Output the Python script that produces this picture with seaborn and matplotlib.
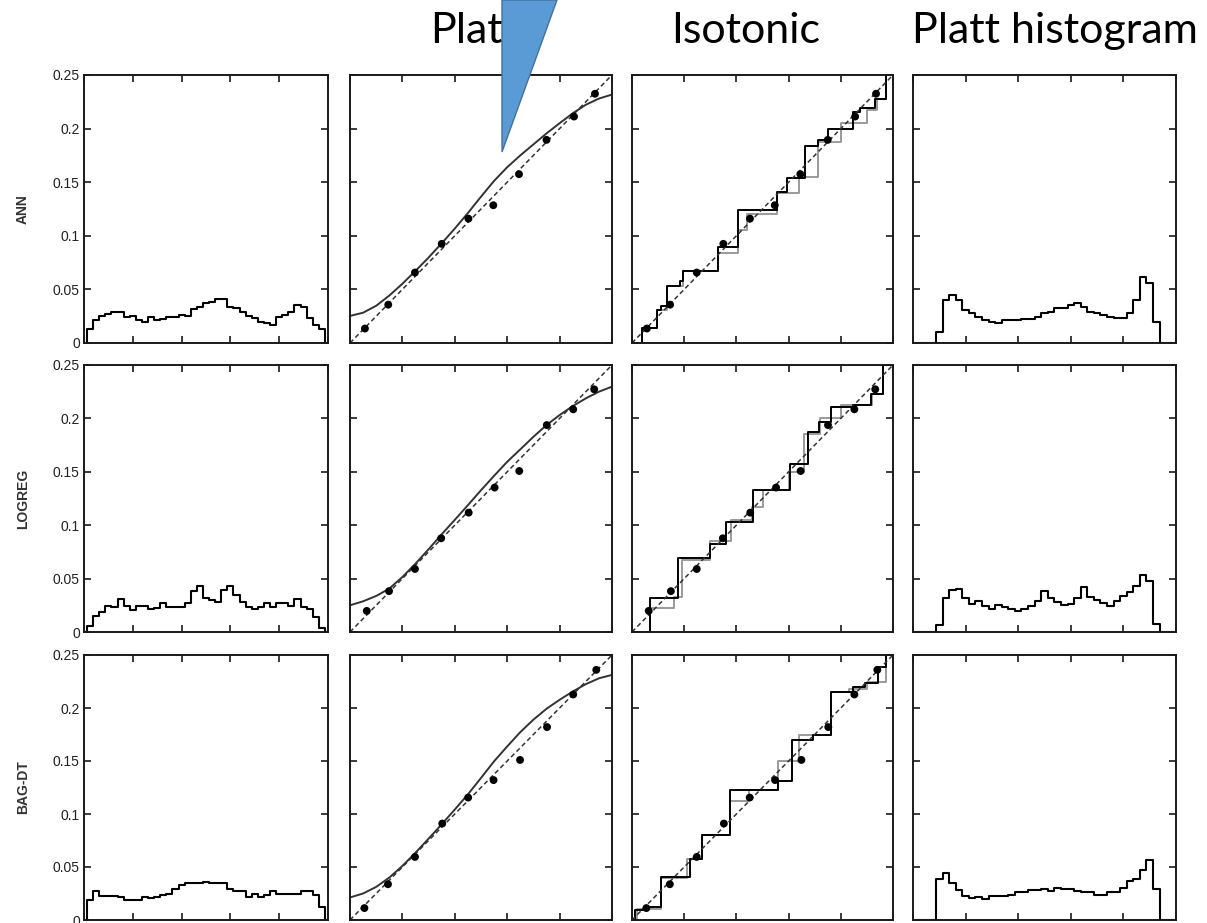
import numpy as np
import pandas as pd
import matplotlib
matplotlib.use("Agg")
import matplotlib.pyplot as plt
import seaborn as sns
from matplotlib.patches import Polygon

# ---------------- data ----------------
row_names = ["ANN", "LOGREG", "BAG-DT"]
col_titles = ["Platt", "Isotonic", "Platt histogram"]
hist_ticks = [0, 0.05, 0.1, 0.15, 0.2, 0.25]
hist_tick_labels = ["0", "0.05", "0.1", "0.15", "0.2", "0.25"]
rel_ticks = [0, 0.2, 0.4, 0.6, 0.8, 1.0]
x_ticks = [0, 0.2, 0.4, 0.6, 0.8, 1.0]

bin_width = 0.025
bin_centers = np.round(np.arange(41) * bin_width, 4)

# raw prediction histograms (column 1)
hist_ann = [0, 0.013, 0.021, 0.025, 0.0275, 0.029, 0.029, 0.024, 0.025, 0.021, 0.020,
            0.024, 0.021, 0.0225, 0.024, 0.024, 0.0265, 0.025, 0.032, 0.034, 0.037,
            0.038, 0.041, 0.041, 0.034, 0.033, 0.029, 0.025, 0.023, 0.020, 0.019,
            0.017, 0.024, 0.026, 0.029, 0.035, 0.034, 0.023, 0.017, 0.013, 0]
hist_logreg = [0, 0.0054, 0.0149, 0.019, 0.024, 0.0237, 0.031, 0.024, 0.0205, 0.0246, 0.0246,
               0.0215, 0.0228, 0.0275, 0.023, 0.023, 0.023, 0.0275, 0.038, 0.043, 0.032,
               0.030, 0.028, 0.039, 0.043, 0.035, 0.028, 0.023, 0.0215, 0.023, 0.0275,
               0.023, 0.0275, 0.0275, 0.0246, 0.031, 0.023, 0.022, 0.0136, 0.0038, 0]
hist_bagdt = [0, 0.019, 0.027, 0.023, 0.023, 0.023, 0.0215, 0.019, 0.019, 0.019, 0.022,
              0.0205, 0.022, 0.0237, 0.025, 0.029, 0.033, 0.035, 0.035, 0.035, 0.036,
              0.035, 0.035, 0.035, 0.029, 0.027, 0.027, 0.022, 0.025, 0.022, 0.0237,
              0.027, 0.025, 0.025, 0.025, 0.025, 0.027, 0.027, 0.0237, 0.0127, 0]

# Platt-calibrated histograms (column 4)
phist_ann = [0, 0, 0, 0, 0.0102, 0.040, 0.0444, 0.040, 0.031, 0.0278, 0.0238,
             0.0216, 0.020, 0.019, 0.021, 0.021, 0.021, 0.0222, 0.0222, 0.0247, 0.0278,
             0.0293, 0.0324, 0.0324, 0.0355, 0.037, 0.034, 0.0293, 0.0278, 0.026, 0.0247,
             0.023, 0.023, 0.028, 0.040, 0.062, 0.056, 0.020, 0, 0, 0]
phist_logreg = [0, 0, 0, 0, 0.0065, 0.0314, 0.039, 0.0407, 0.0314, 0.0264, 0.029,
                0.024, 0.022, 0.025, 0.023, 0.0217, 0.0196, 0.0217, 0.024, 0.029, 0.038,
                0.0314, 0.028, 0.025, 0.0264, 0.0314, 0.042, 0.033, 0.030, 0.027, 0.0248,
                0.029, 0.034, 0.037, 0.0435, 0.0537, 0.0475, 0.0078, 0, 0, 0]
phist_bagdt = [0, 0, 0, 0, 0.0385, 0.044, 0.0346, 0.028, 0.0224, 0.0208, 0.022,
               0.020, 0.0224, 0.0224, 0.0224, 0.024, 0.0266, 0.0266, 0.0279, 0.0279, 0.029,
               0.0276, 0.030, 0.0288, 0.0288, 0.0276, 0.0266, 0.0266, 0.0234, 0.0234, 0.0266,
               0.0266, 0.030, 0.0369, 0.0388, 0.0468, 0.057, 0.0288, 0, 0, 0]

# reliability points (mean prediction vs fraction of positives)
rel_x_ann = [0.057, 0.146, 0.248, 0.350, 0.452, 0.547, 0.645, 0.750, 0.855, 0.935]
rel_y_ann = [0.054, 0.143, 0.263, 0.370, 0.464, 0.514, 0.630, 0.758, 0.845, 0.930]
rel_x_logreg = [0.064, 0.149, 0.248, 0.348, 0.453, 0.552, 0.646, 0.751, 0.852, 0.932]
rel_y_logreg = [0.079, 0.153, 0.236, 0.351, 0.447, 0.541, 0.603, 0.775, 0.834, 0.909]
rel_x_bagdt = [0.055, 0.145, 0.248, 0.352, 0.451, 0.548, 0.649, 0.752, 0.852, 0.940]
rel_y_bagdt = [0.045, 0.135, 0.238, 0.364, 0.462, 0.528, 0.604, 0.728, 0.851, 0.944]

# Platt sigmoid fits, read at x = 0, 0.05, ..., 1
platt_x = [0, 0.05, 0.1, 0.15, 0.2, 0.25, 0.3, 0.35, 0.4, 0.45, 0.5,
           0.55, 0.6, 0.65, 0.7, 0.75, 0.8, 0.85, 0.9, 0.95, 1.0]
platt_ann = [0.101, 0.113, 0.139, 0.177, 0.221, 0.269, 0.319, 0.372, 0.427, 0.485, 0.546,
             0.605, 0.656, 0.700, 0.741, 0.782, 0.820, 0.857, 0.889, 0.912, 0.927]
platt_logreg = [0.100, 0.115, 0.135, 0.1625, 0.206, 0.256, 0.310, 0.366, 0.420, 0.475, 0.531,
                0.585, 0.6375, 0.684, 0.731, 0.775, 0.8125, 0.846, 0.875, 0.900, 0.919]
platt_bagdt = [0.085, 0.100, 0.125, 0.160, 0.204, 0.254, 0.307, 0.361, 0.417, 0.474, 0.536,
               0.599, 0.655, 0.709, 0.756, 0.797, 0.831, 0.862, 0.890, 0.912, 0.925]

# isotonic step functions: breakpoints and levels (black and gray fits)
iso_edges_ann = [0, 0.038, 0.096, 0.111, 0.134, 0.185, 0.197, 0.331, 0.408, 0.554, 0.592,
                 0.662, 0.713, 0.752, 0.847, 0.873, 0.93, 0.975, 1.0]
iso_levels_ann = [0, 0.056, 0.124, 0.137, 0.214, 0.230, 0.267, 0.360, 0.497, 0.565,
                  0.615, 0.735, 0.758, 0.80, 0.861, 0.876, 0.91, 1.0]
iso2_edges_ann = [0, 0.038, 0.096, 0.134, 0.197, 0.331, 0.408, 0.44, 0.554, 0.64, 0.713,
                  0.80, 0.90, 0.94, 0.975, 1.0]
iso2_levels_ann = [0, 0.056, 0.124, 0.214, 0.267, 0.335, 0.42, 0.48, 0.56, 0.62, 0.75,
                   0.82, 0.87, 0.91, 1.0]

iso_edges_logreg = [0, 0.07, 0.178, 0.299, 0.36, 0.465, 0.605, 0.673, 0.717, 0.764, 0.847,
                    0.917, 0.962, 1.0]
iso_levels_logreg = [0, 0.1275, 0.2775, 0.331, 0.4125, 0.53, 0.6275, 0.7475, 0.7875,
                     0.844, 0.85, 0.89, 1.0]
iso2_edges_logreg = [0, 0.07, 0.16, 0.19, 0.3, 0.38, 0.46, 0.5, 0.6, 0.66, 0.72, 0.8,
                     0.92, 0.96, 1.0]
iso2_levels_logreg = [0, 0.09, 0.13, 0.27, 0.34, 0.42, 0.47, 0.53, 0.6, 0.74, 0.8, 0.85,
                      0.89, 1.0]

iso_edges_bagdt = [0, 0.013, 0.051, 0.111, 0.223, 0.268, 0.376, 0.561, 0.612, 0.694, 0.764,
                   0.847, 0.892, 0.943, 0.975, 1.0]
iso_levels_bagdt = [0, 0.0375, 0.05, 0.1625, 0.229, 0.319, 0.491, 0.525, 0.681, 0.70,
                    0.859, 0.881, 0.896, 0.956, 1.0]
iso2_edges_bagdt = [0, 0.02, 0.11, 0.21, 0.27, 0.376, 0.45, 0.56, 0.64, 0.764, 0.83, 0.9,
                    0.975, 1.0]
iso2_levels_bagdt = [0, 0.04, 0.16, 0.23, 0.32, 0.45, 0.49, 0.6, 0.7, 0.86, 0.87, 0.9, 1.0]

diag = [0.0, 1.0]

hists = [hist_ann, hist_logreg, hist_bagdt]
phists = [phist_ann, phist_logreg, phist_bagdt]
rel_xs = [rel_x_ann, rel_x_logreg, rel_x_bagdt]
rel_ys = [rel_y_ann, rel_y_logreg, rel_y_bagdt]
platts = [platt_ann, platt_logreg, platt_bagdt]
isos = [(iso_edges_ann, iso_levels_ann, iso2_edges_ann, iso2_levels_ann),
        (iso_edges_logreg, iso_levels_logreg, iso2_edges_logreg, iso2_levels_logreg),
        (iso_edges_bagdt, iso_levels_bagdt, iso2_edges_bagdt, iso2_levels_bagdt)]

# ---------------- style ----------------
sns.set_style("ticks")
plt.rcParams["font.family"] = ["Liberation Sans", "DejaVu Sans"]

W, H = 1207, 923
fig = plt.figure(figsize=(W / 100, H / 100), dpi=100)

col_px = [(84, 328), (350, 612), (632, 893), (913, 1176)]
row_px = [(75, 343), (365, 632), (655, 920)]

edge_col = "#1a1a1a"
bin_edges = list(np.round(np.arange(42) * bin_width - bin_width / 2, 4))


def make_ax(r, c):
    x0, x1 = col_px[c]
    y0, y1 = row_px[r]
    return fig.add_axes([x0 / W, 1 - y1 / H, (x1 - x0) / W, (y1 - y0) / H])


def style_ax(ax, c):
    ax.set_xlim(0, 1)
    ax.set_xticks(x_ticks)
    if c in (0, 3):
        ax.set_ylim(0, 0.25)
        ax.set_yticks(hist_ticks)
        if c == 0:
            ax.set_yticklabels(hist_tick_labels)
    else:
        ax.set_ylim(0, 1)
        ax.set_yticks(rel_ticks)
    ax.tick_params(direction="in", length=5, width=1.2, top=True, right=True,
                   labelbottom=False, labelleft=(c == 0), color=edge_col,
                   labelsize=10, labelcolor="#222222", pad=3)
    for s in ax.spines.values():
        s.set_visible(True)
        s.set_linewidth(1.4)
        s.set_color(edge_col)
    ax.set_xlabel("")
    ax.set_ylabel("")


def draw_hist(ax, values):
    df = pd.DataFrame({"pred": bin_centers, "frac": values})
    sns.histplot(data=df, x="pred", weights="frac", bins=bin_edges, element="step",
                 fill=False, color="black", linewidth=1.5, ax=ax)


def draw_line(ax, xs, ys, **kw):
    df = pd.DataFrame({"x": xs, "y": ys})
    sns.lineplot(data=df, x="x", y="y", estimator=None, sort=False, ax=ax, **kw)
    return ax.lines[-1]


def draw_dots(ax, xs, ys):
    df = pd.DataFrame({"x": xs, "y": ys})
    sns.scatterplot(data=df, x="x", y="y", color="black", s=32, edgecolor="none",
                    ax=ax, zorder=5)


for r in range(3):
    ax = make_ax(r, 0)
    draw_hist(ax, hists[r])
    style_ax(ax, 0)

    ax = make_ax(r, 1)
    ln = draw_line(ax, diag, diag, color="#333333", linewidth=1.1)
    ln.set_linestyle((0, (3, 2)))
    draw_line(ax, platt_x, platts[r], color="#333333", linewidth=1.4)
    draw_dots(ax, rel_xs[r], rel_ys[r])
    style_ax(ax, 1)

    ax = make_ax(r, 2)
    e1, l1, e2, l2 = isos[r]
    draw_line(ax, e2, l2 + [l2[-1]], drawstyle="steps-post", color="#9a9a9a", linewidth=1.4)
    draw_line(ax, e1, l1 + [l1[-1]], drawstyle="steps-post", color="black", linewidth=1.4)
    ln = draw_line(ax, diag, diag, color="#333333", linewidth=1.1)
    ln.set_linestyle((0, (3, 2)))
    draw_dots(ax, rel_xs[r], rel_ys[r])
    style_ax(ax, 2)

    ax = make_ax(r, 3)
    draw_hist(ax, phists[r])
    style_ax(ax, 3)

    yc = (row_px[r][0] + row_px[r][1]) / 2
    fig.text(23 / W, 1 - yc / H, row_names[r], rotation=90, ha="center", va="center",
             fontsize=10, fontweight="bold", color="#333333")

title_x = [474, 746, 1055]
for t, xc in zip(col_titles, title_x):
    fig.text(xc / W, 1 - 43 / H, t, ha="center", va="baseline", fontsize=31,
             family=["Lato", "DejaVu Sans"], color="black")

tri = Polygon([(502 / W, 1.0), (557 / W, 1.0), (502 / W, 1 - 152 / H)], closed=True,
              transform=fig.transFigure, facecolor="#5B9BD5", edgecolor="#41719C",
              linewidth=1.0, zorder=10)
fig.add_artist(tri)

fig.savefig("out.png", dpi=100)
